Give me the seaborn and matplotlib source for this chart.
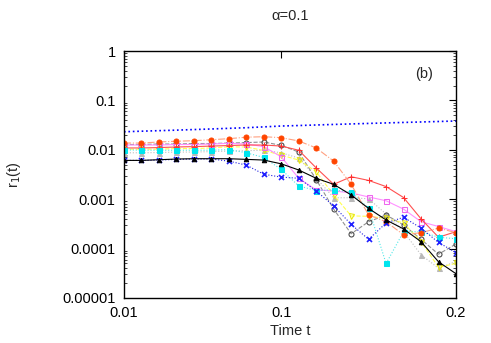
import numpy as np
import pandas as pd
import matplotlib
matplotlib.use("Agg")
import matplotlib.pyplot as plt
import matplotlib.ticker as mticker
import seaborn as sns

t = [0.01, 0.02, 0.03, 0.04, 0.05, 0.06, 0.07, 0.08, 0.09, 0.10,
     0.11, 0.12, 0.13, 0.14, 0.15, 0.16, 0.17, 0.18, 0.19, 0.20]

blue_line = [0.0232, 0.0238, 0.0244, 0.0250, 0.0257, 0.0264, 0.0272, 0.0280, 0.0291, 0.0303,
             0.0310, 0.0318, 0.0326, 0.0334, 0.0342, 0.0350, 0.0358, 0.0366, 0.0374, 0.0383]
orange = [0.0137, 0.0137, 0.0144, 0.0149, 0.0153, 0.0160, 0.0168, 0.0180, 0.0184, 0.0176,
          0.0151, 0.0109, 0.0059, 0.0020, 0.00048, 0.00035, 0.00019, 0.00021, 0.00026, 0.00021]
darkgray_circ = [0.0128, 0.0128, 0.0131, 0.0131, 0.0134, 0.0134, 0.0137, 0.0140, 0.0144, 0.0123,
                 0.0090, 0.0025, 0.00063, 0.00020, 0.00035, 0.00048, 0.00030, 0.000154, 0.000077, 0.000124]
magenta_sq = [0.0125, 0.0125, 0.0125, 0.0128, 0.0128, 0.0131, 0.0135, 0.0131, 0.0116, 0.0072,
              0.00265, 0.00154, 0.00147, 0.00134, 0.00111, 0.00093, 0.00063, 0.00035, 0.00028, 0.00022]
red_plus = [0.0109, 0.0109, 0.0111, 0.0114, 0.0116, 0.0119, 0.0122, 0.0125, 0.0125, 0.0119,
            0.0098, 0.0043, 0.0020, 0.00285, 0.0024, 0.0018, 0.00108, 0.00040, 0.00017, 0.00022]
yellow_tri = [0.0103, 0.0103, 0.0103, 0.0106, 0.0106, 0.0109, 0.0115, 0.0114, 0.0097, 0.0078,
              0.0062, 0.0036, 0.00122, 0.00046, 0.00045, 0.00041, 0.00033, 0.000138, 0.000042, 0.00005]
cyan_sq = [0.0100, 0.0098, 0.0098, 0.0098, 0.0098, 0.0098, 0.0101, 0.0087, 0.0070, 0.0040,
           0.00185, 0.0015, 0.00154, 0.0014, 0.00065, 0.00005, 0.00022, 0.00022, 0.00017, 0.000158]
gray_tri = [0.0087, 0.0087, 0.0088, 0.0090, 0.0090, 0.0092, 0.0094, 0.0096, 0.0098, 0.0087,
            0.0068, 0.0027, 0.00107, 0.00107, 0.00102, 0.00050, 0.00022, 0.000075, 0.000040, 0.000055]
blue_x = [0.0061, 0.0061, 0.0062, 0.0064, 0.0065, 0.0065, 0.0059, 0.0049, 0.0032, 0.0028,
          0.00265, 0.00147, 0.00073, 0.00031, 0.000154, 0.00033, 0.00043, 0.00026, 0.000133, 0.000083]
black_tri = [0.0061, 0.0061, 0.0063, 0.0065, 0.0066, 0.0066, 0.0066, 0.0064, 0.0062, 0.0052,
             0.0039, 0.00265, 0.0020, 0.00122, 0.00065, 0.00038, 0.00025, 0.000138, 0.000054, 0.000031]

y_ticks = [1, 0.1, 0.01, 0.001, 0.0001, 0.00001]
y_tick_labels = ["1", "0.1", "0.01", "0.001", "0.0001", "0.00001"]
x_ticks = [0.01, 0.1, 0.2]
x_tick_labels = ["0.01", "0.1", "0.2"]

sns.set_style("white")
plt.rcParams['font.family'] = ['Liberation Sans', 'DejaVu Sans']
plt.rcParams['mathtext.fontset'] = 'dejavusans'

fig = plt.figure(figsize=(4.91, 3.43), dpi=100)
ax = fig.add_axes([0.2525, 0.1312, 0.6762, 0.7201])

ms = 3.6
series = [
    (gray_tri, dict(color="#c0c0c0", linestyle=":", marker="^", markersize=ms, mfc="#b8b8b8", mec="#b8b8b8")),
    (darkgray_circ, dict(color="#909090", linestyle="--", marker="o", markersize=ms, mfc="none", mec="#444444", dashes=(3, 2))),
    (yellow_tri, dict(color="#ffff50", linestyle="--", marker="v", markersize=ms, mfc="none", mec="#e8e800", dashes=(3, 2))),
    (magenta_sq, dict(color="#ff90ff", linestyle="-", marker="s", markersize=ms, mfc="none", mec="#ee66ee")),
    (red_plus, dict(color="#ff5050", linestyle="-", marker="+", markersize=4.5, mec="#ff3030")),
    (cyan_sq, dict(color="#50e8e8", linestyle=":", marker="s", markersize=ms, mfc="#00e5ee", mec="#00e5ee")),
    (orange, dict(color="#ffa080", linestyle="-.", marker="o", markersize=ms, mfc="#ff4500", mec="#ff4500")),
    (blue_x, dict(color="#2020e0", linestyle=":", marker="x", markersize=ms, mec="#2020ff", mew=1.2)),
    (black_tri, dict(color="black", linestyle="-", marker="^", markersize=3.2, mfc="black", mec="black")),
    (blue_line, dict(color="#0000ff", linestyle=":", marker=None)),
]

for vals, style in series:
    lw = 1.2 if style.get("marker") is None else 0.8
    sns.lineplot(x=t, y=vals, ax=ax, linewidth=lw, legend=False, **style)

ax.set_yscale("log")
ax.set_xlim(0.01, 0.2)
ax.set_ylim(1e-5, 1)
ax.set_yticks(y_ticks)
ax.set_yticklabels(y_tick_labels)
ax.yaxis.set_minor_locator(mticker.LogLocator(base=10, subs=np.arange(2, 10)))
ax.yaxis.set_minor_formatter(mticker.NullFormatter())
ax.set_xticks(x_ticks)
ax.set_xticklabels(x_tick_labels)

ax.tick_params(axis="both", which="major", direction="in", length=5, width=0.8,
               top=True, right=True, labelsize=10.5, pad=6, colors="black")
ax.tick_params(axis="y", which="minor", direction="in", length=2.5, width=0.6, left=True, right=True)
for sp in ax.spines.values():
    sp.set_color("black")
    sp.set_linewidth(1.0)

ax.set_xlabel("Time t", fontsize=10.5, labelpad=3)
ax.set_ylabel(r"r$_1$(t)", fontsize=10.5, labelpad=28)
ax.set_title("\u03b1=0.1", fontsize=10.5, pad=22)
ax.text(0.905, 0.905, "(b)", transform=ax.transAxes, fontsize=10.5, ha="center", va="center")

fig.savefig("out.png", dpi=100)
